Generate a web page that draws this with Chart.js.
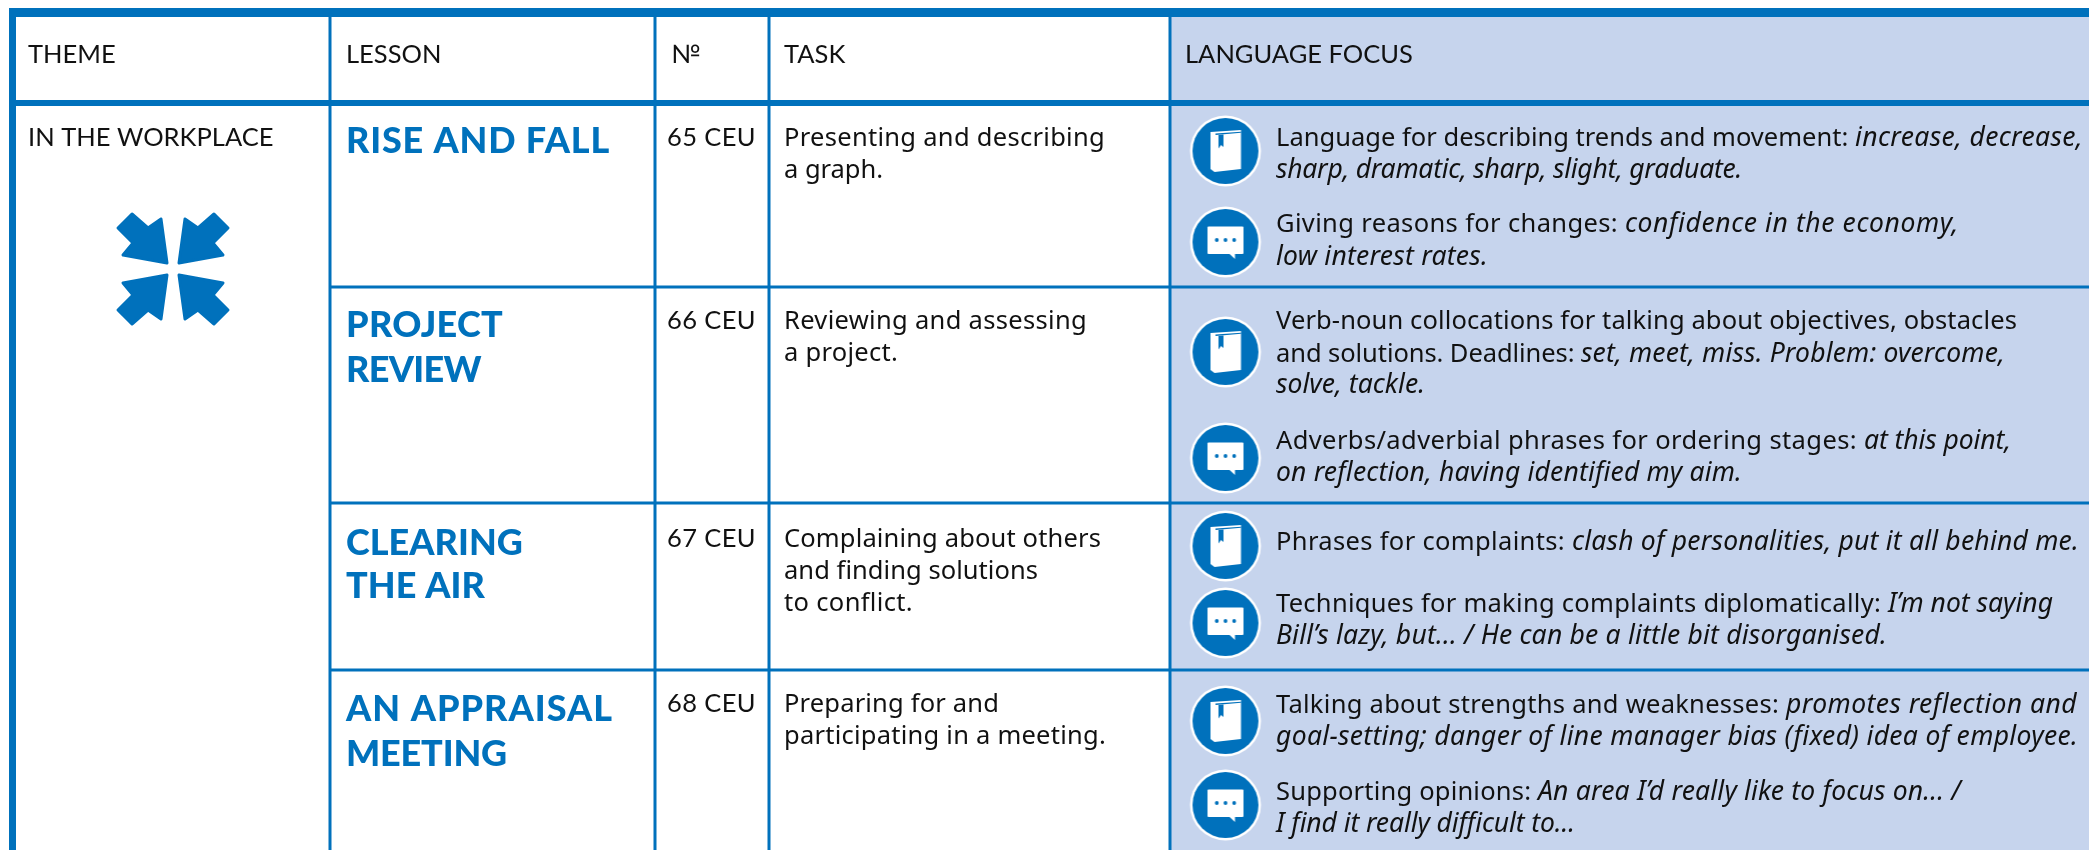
<!DOCTYPE html>
<html>
<head>
<meta charset="utf-8">
<title>Lesson overview</title>
<style>
  html, body { margin: 0; background: #fff; overflow: hidden; }
  canvas { display: block; }
</style>
<script src="https://cdn.jsdelivr.net/npm/chart.js@4"></script>
</head>
<body>
<canvas id="lessonChart" width="2089" height="850"></canvas>
<script>
const headers = ['THEME', 'LESSON', '№', 'TASK', 'LANGUAGE FOCUS'];
const theme = 'IN THE WORKPLACE';
const lessons = [['RISE AND FALL'], ['PROJECT', 'REVIEW'], ['CLEARING', 'THE AIR'], ['AN APPRAISAL', 'MEETING']];
const numbers = ['65 CEU', '66 CEU', '67 CEU', '68 CEU'];
const tasks = [
  ['Presenting and describing', 'a graph.'],
  ['Reviewing and assessing', 'a project.'],
  ['Complaining about others', 'and finding solutions', 'to conflict.'],
  ['Preparing for and', 'participating in a meeting.']
];
// each line is [plain part, italic part]
const focusLines = [
  [['Language for describing trends and movement: ', 'increase, decrease,'], ['', 'sharp, dramatic, sharp, slight, graduate.']],
  [['Giving reasons for changes: ', 'confidence in the economy,'], ['', 'low interest rates.']],
  [['Verb-noun collocations for talking about objectives, obstacles', ''], ['and solutions. Deadlines: ', 'set, meet, miss. Problem: overcome,'], ['', 'solve, tackle.']],
  [['Adverbs/adverbial phrases for ordering stages: ', 'at this point,'], ['', 'on reflection, having identified my aim.']],
  [['Phrases for complaints: ', 'clash of personalities, put it all behind me.']],
  [['Techniques for making complaints diplomatically: ', 'I’m not saying'], ['', 'Bill’s lazy, but... / He can be a little bit disorganised.']],
  [['Talking about strengths and weaknesses: ', 'promotes reflection and'], ['', 'goal-setting; danger of line manager bias (fixed) idea of employee.']],
  [['Supporting opinions: ', 'An area I’d really like to focus on... /'], ['', 'I find it really difficult to...']]
];
const focusIcons = ['book', 'speech', 'book', 'speech', 'book', 'speech', 'book', 'speech'];

// table layout, in the units of the two hidden axes
const colEdges = [330, 655, 769, 1170];
const rowEdges = [287, 503, 670];
const textX = { theme: 28, lesson: 346, number: 667, numberHead: 671, task: 784, focusHead: 1185, focus: 1276 };
const headBase = 63;
const themeBase = 146;
const lessonBase = [[153], [337, 382], [555, 598], [721, 766]];
const numberBase = [146, 329, 547, 712];
const taskBase = [146, 329, 547, 712];
const focusBase = [[146, 178], [232, 265], [329, 362, 393], [449, 481], [550], [612, 644], [713, 745], [800, 832]];
const iconX = 1225.5;
const iconY = [151, 242, 352, 458, 546, 623, 721, 805];
// where each text line stops in the source, the fonts here differ in width
const lessonEnds = [[610], [503, 481], [523, 485], [613, 507]];
const taskEnds = [[1105, 883], [1087, 898], [1101, 1038, 913], [999, 1106]];
const focusEnds = [
  [[1855, 2083], [1276, 1742]],
  [[1625, 1959], [1276, 1488]],
  [[2017, 2017], [1581, 2005], [1276, 1425]],
  [[1864, 2011], [1276, 1742]],
  [[1572, 2079]],
  [[1888, 2053], [1276, 1887]],
  [[1786, 2077], [1276, 2077]],
  [[1538, 1961], [1276, 1575]]
];

const BLUE = '#0071bc';

function makeCanvas(size) {
  const c = document.createElement('canvas');
  c.width = size;
  c.height = size;
  return c;
}

function roundDisc(ctx, s) {
  ctx.fillStyle = '#fff';
  ctx.beginPath();
  ctx.arc(s / 2, s / 2, 35.5, 0, Math.PI * 2);
  ctx.fill();
  ctx.fillStyle = BLUE;
  ctx.beginPath();
  ctx.arc(s / 2, s / 2, 33, 0, Math.PI * 2);
  ctx.fill();
}

function poly(ctx, pts) {
  ctx.beginPath();
  pts.forEach((p, i) => (i ? ctx.lineTo(p[0], p[1]) : ctx.moveTo(p[0], p[1])));
  ctx.closePath();
  ctx.fill();
}

function bookIcon() {
  const s = 74;
  const c = makeCanvas(s);
  const ctx = c.getContext('2d');
  roundDisc(ctx, s);
  ctx.translate(s / 2, s / 2);
  ctx.fillStyle = '#fff';
  poly(ctx, [[-15, -19], [15.5, -21], [15.5, 18], [-11, 21], [-15, 18]]);
  ctx.fillStyle = BLUE;
  poly(ctx, [[-10, -17.5], [15.5, -19.2], [15.5, -18.2], [-10, -16]]);
  poly(ctx, [[-7, -16], [-2, -16.5], [-2, -4], [-4.5, -6], [-7, -2.5]]);
  return c;
}

function speechIcon() {
  const s = 74;
  const c = makeCanvas(s);
  const ctx = c.getContext('2d');
  roundDisc(ctx, s);
  ctx.translate(s / 2, s / 2);
  ctx.fillStyle = '#fff';
  ctx.beginPath();
  ctx.roundRect(-18, -15.5, 36, 27.5, 1);
  ctx.fill();
  poly(ctx, [[3, 11], [9.5, 17], [9.5, 11]]);
  ctx.fillStyle = BLUE;
  [-8.7, 0, 8.7].forEach((dx) => {
    ctx.beginPath();
    ctx.arc(dx, -2, 1.9, 0, Math.PI * 2);
    ctx.fill();
  });
  return c;
}

function arrowsIcon() {
  const s = 120;
  const c = makeCanvas(s);
  const ctx = c.getContext('2d');
  ctx.translate(s / 2, s / 2);
  const arrow = [[-6, -6], [-12, -50], [-25, -41], [-41, -55], [-55, -41], [-40, -26], [-50, -14]];
  ctx.fillStyle = BLUE;
  ctx.strokeStyle = BLUE;
  ctx.lineWidth = 3;
  ctx.lineJoin = 'round';
  [[1, 1], [-1, 1], [1, -1], [-1, -1]].forEach(([sx, sy]) => {
    ctx.save();
    ctx.scale(sx, sy);
    poly(ctx, arrow);
    ctx.stroke();
    ctx.restore();
  });
  return c;
}

function segment(points, width, color) {
  return { type: 'line', data: points, borderColor: color, borderWidth: width, pointRadius: 0, fill: false, tension: 0, order: 2 };
}

const gridLines = [
  segment([{ x: 9, y: 12.5 }, { x: 2089, y: 12.5 }], 9, BLUE),
  segment([{ x: 12.5, y: 8 }, { x: 12.5, y: 850 }], 7, BLUE),
  segment([{ x: 9, y: 103 }, { x: 2089, y: 103 }], 6, BLUE),
  ...colEdges.map((x) => segment([{ x, y: 8 }, { x, y: 850 }], 3, BLUE)),
  ...rowEdges.map((y) => segment([{ x: colEdges[0], y }, { x: 2089, y }], 3, BLUE))
];

const panel = {
  type: 'line',
  data: [{ x: colEdges[3], y: 8 }, { x: 2089, y: 8 }],
  borderWidth: 0,
  pointRadius: 0,
  backgroundColor: '#c6d4ed',
  fill: { value: 850 },
  order: 3
};

const bookImg = bookIcon();
const speechImg = speechIcon();
const icons = {
  type: 'scatter',
  data: iconY.map((y) => ({ x: iconX, y })),
  pointStyle: focusIcons.map((kind) => (kind === 'book' ? bookImg : speechImg)),
  pointRadius: 36,
  order: 1
};

const themeIcon = {
  type: 'scatter',
  data: [{ x: 173, y: 269 }],
  pointStyle: arrowsIcon(),
  pointRadius: 60,
  order: 1
};

const tableText = {
  id: 'tableText',
  afterDatasetsDraw(chart) {
    const { ctx, scales: { x, y } } = chart;
    const put = (text, px, py, font, color) => {
      ctx.font = font;
      ctx.letterSpacing = '0.01px';
      ctx.fillStyle = color || '#111';
      ctx.fillText(text, x.getPixelForValue(px), y.getPixelForValue(py));
    };
    // same as put, but spaces the letters so the line stops at endX
    const fit = (text, px, endX, py, font, color) => {
      if (!text) return;
      ctx.font = font;
      ctx.letterSpacing = '0px';
      const extra = (endX - px - ctx.measureText(text).width) / text.length;
      ctx.letterSpacing = `${extra.toFixed(3)}px`;
      ctx.fillStyle = color || '#111';
      ctx.fillText(text, x.getPixelForValue(px), y.getPixelForValue(py));
    };
    const caps = '25.5px Lato';
    const plain = '25.5px "Noto Sans"';
    const italic = 'italic 26.5px "Noto Sans"';
    const heading = '900 36px Lato';
    ctx.save();
    ctx.textBaseline = 'alphabetic';
    const headX = [textX.theme, textX.lesson, textX.numberHead, textX.task, textX.focusHead];
    headers.forEach((h, i) => put(h, headX[i], headBase, caps));
    put(theme, textX.theme, themeBase, caps);
    lessons.forEach((lines, i) => lines.forEach((line, j) => fit(line, textX.lesson, lessonEnds[i][j], lessonBase[i][j], heading, BLUE)));
    numbers.forEach((n, i) => fit(n, textX.number, 756, numberBase[i], caps));
    tasks.forEach((lines, i) => lines.forEach((line, j) => fit(line, textX.task, taskEnds[i][j], taskBase[i] + j * 32, plain)));
    focusLines.forEach((lines, i) => lines.forEach(([roman, ital], j) => {
      const [romanEnd, italEnd] = focusEnds[i][j];
      fit(roman, textX.focus, romanEnd, focusBase[i][j], plain);
      fit(ital, romanEnd, italEnd, focusBase[i][j], italic);
    }));
    ctx.restore();
  }
};

new Chart(document.getElementById('lessonChart'), {
  data: { datasets: [panel, ...gridLines, icons, themeIcon] },
  options: {
    responsive: false,
    animation: false,
    events: [],
    layout: { padding: 0, autoPadding: false },
    scales: {
      x: { type: 'linear', min: 0, max: 2089, display: false },
      y: { type: 'linear', min: 0, max: 850, reverse: true, display: false }
    },
    plugins: { legend: { display: false }, tooltip: { enabled: false } }
  },
  plugins: [tableText]
});
</script>
</body>
</html>
